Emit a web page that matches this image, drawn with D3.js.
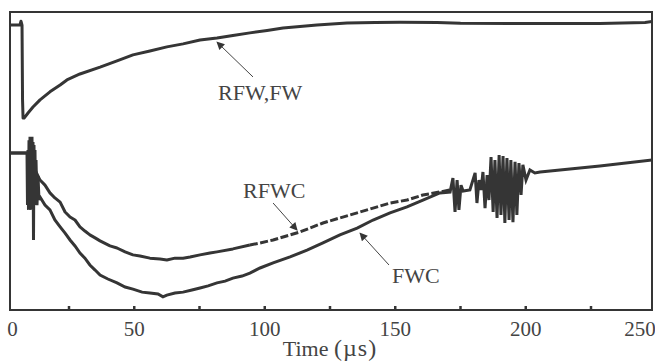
<!DOCTYPE html>
<html>
<head>
<meta charset="utf-8">
<script src="https://cdn.jsdelivr.net/npm/d3@7"></script>
<style>
  html, body { margin: 0; padding: 0; background: #fff; }
  svg { display: block; }
  text { font-family: "Liberation Serif", "Times New Roman", serif; fill: #444; }
</style>
</head>
<body>
<svg id="chart" width="655" height="363"></svg>
<script>
// Time axis (µs) and normalised signal amplitude (0 = bottom of frame, 100 = top)
const xTicksMinor = [25, 50, 75, 100, 125, 150, 175, 200, 225];
const xTickLabels = [0, 50, 100, 150, 200, 250];

// RFW and FW traces (coincident): [time µs, amplitude]
const rfwFw = [
  [2.4, 95.6], [6.2, 95.6], [6.6, 96.9], [7.0, 95.6], [7.2, 70.5], [7.4, 64.4], [7.8, 64.4],
  [9.3, 66.1], [11.2, 68.1], [13.9, 70.5], [17.7, 73.2], [21.6, 75.5], [24.2, 77.2],
  [29.2, 79.2], [36.9, 81.5], [43.4, 83.6], [49.5, 85.6], [56.0, 86.9], [62.5, 88.3],
  [68.7, 89.3], [75.2, 90.6], [81.7, 91.3], [87.8, 92.1], [94.3, 93.0], [100.9, 93.8],
  [107.0, 94.6], [113.5, 95.1], [120.0, 95.6], [131.5, 96.3], [142.3, 96.5], [151.8, 96.6],
  [166.0, 96.5], [175.0, 96.2], [228.4, 96.1], [245.7, 96.5], [248.4, 96.8]
];

// FWC trace, including the trigger burst and the late ringing
const fwc = [
  [2.4, 52.7], [8.91, 52.7], [9.10, 35.2], [9.29, 53.7], [9.48, 33.6], [9.67, 57.0],
  [9.87, 34.2], [10.06, 58.1], [10.25, 35.2], [10.44, 57.4], [10.63, 33.6], [10.82, 58.1],
  [11.02, 36.9], [11.21, 56.4], [11.40, 23.5], [11.59, 55.4], [11.78, 35.2], [11.97, 53.7],
  [12.17, 36.9], [12.36, 50.3], [12.74, 35.2], [13.12, 45.0], [13.51, 36.9], [13.89, 37.9],
  [15.8, 35.2], [17.7, 33.6], [19.6, 30.2], [21.6, 27.9], [23.5, 25.8], [25.4, 23.5],
  [27.3, 21.5], [29.2, 19.1], [31.1, 17.4], [33.0, 15.1], [35.0, 13.4], [36.9, 11.7],
  [39.9, 10.4], [43.4, 9.1], [46.5, 7.7], [49.5, 7.0], [53.0, 6.0], [56.0, 5.7],
  [59.1, 5.4], [61.0, 4.4], [62.5, 5.0], [65.6, 5.7], [68.7, 6.0], [72.1, 6.7],
  [75.2, 7.4], [78.3, 8.1], [81.7, 9.1], [84.8, 9.7], [87.8, 10.7], [91.3, 11.4],
  [94.3, 12.4], [98.2, 14.1], [103.2, 15.8], [109.7, 17.8], [116.2, 20.1], [122.3, 22.5],
  [128.8, 25.2], [135.4, 27.5], [141.5, 30.2], [148.0, 32.6], [154.5, 34.6], [160.6, 36.9],
  [167.1, 39.3], [171.0, 39.6],
  [172.1, 44.3], [172.9, 32.9], [173.7, 43.6], [174.4, 33.6], [175.2, 41.9], [176.0, 39.9],
  [178.6, 40.3], [180.6, 46.0], [181.3, 35.9], [182.1, 43.6], [182.9, 40.3], [183.6, 46.3],
  [184.4, 34.2], [185.2, 45.3], [185.9, 36.9], [186.7, 51.3], [187.5, 32.9], [188.2, 50.3],
  [189.0, 30.9], [189.8, 52.0], [190.5, 31.9], [191.3, 51.7], [192.0, 29.2], [192.8, 51.0],
  [193.6, 30.2], [194.3, 50.3], [195.1, 29.5], [195.9, 49.7], [196.6, 31.9], [197.4, 49.3],
  [198.2, 38.6], [198.9, 48.7], [200.1, 43.6], [201.6, 47.0], [203.5, 46.0], [205.5, 46.3],
  [228.4, 48.3], [248.4, 50.3]
];

// RFWC trace
const rfwc = [
  [2.4, 52.7], [8.9, 52.7], [10.1, 50.3], [12.4, 46.3], [13.1, 45.0], [13.9, 43.6],
  [15.8, 41.9], [17.7, 39.3], [19.6, 37.6], [21.6, 36.2], [23.5, 32.9], [25.4, 31.2],
  [27.3, 30.2], [29.2, 27.9], [31.1, 26.5], [33.0, 25.2], [35.0, 24.2], [36.9, 23.2],
  [40.7, 21.5], [43.4, 20.8], [46.5, 19.5], [49.5, 18.5], [52.2, 18.1], [56.0, 17.4],
  [59.9, 17.1], [62.5, 16.8], [65.6, 17.4], [68.7, 17.4], [71.4, 17.8], [75.2, 18.5],
  [79.0, 19.1], [81.7, 19.5], [87.8, 20.5], [94.3, 21.8], [98.2, 22.5], [103.2, 23.5],
  [113.5, 26.2], [122.3, 29.2], [128.8, 30.9], [135.4, 32.6], [141.5, 34.2], [148.0, 35.9],
  [154.5, 36.9], [160.6, 38.6], [167.1, 39.6], [171.0, 40.3]
];

// Curve labels with pointer arrows: text anchor and arrow tail/head in data units
const annotations = [
  { text: "RFW,FW", at: [82.1, 70.5], from: [95.5, 78.2], to: [81.7, 89.9] },
  { text: "RFWC",   at: [91.7, 37.6], from: [103.2, 35.9], to: [112.4, 26.8] },
  { text: "FWC",    at: [148.8, 9.1], from: [147.6, 15.1], to: [136.5, 25.8] }
];

const frame = { left: 10, top: 12, right: 652, bottom: 310 };
const ink = "#353535";

const svg = d3.select("#chart");

// Time scale: 0 µs sits just left of the frame, 250 µs just right of it
const x = d3.scaleLinear().domain([0, 250]).range([3.75, 656.25]);
const y = d3.scaleLinear().domain([0, 100]).range([frame.bottom, frame.top]);

const defs = svg.append("defs");
defs.append("clipPath").attr("id", "plot-clip")
  .append("rect")
  .attr("x", frame.left).attr("y", frame.top)
  .attr("width", frame.right - frame.left).attr("height", frame.bottom - frame.top);

defs.append("marker")
  .attr("id", "arrowhead")
  .attr("viewBox", "0 0 10 10")
  .attr("refX", 9).attr("refY", 5)
  .attr("markerUnits", "userSpaceOnUse")
  .attr("markerWidth", 11).attr("markerHeight", 8)
  .attr("orient", "auto")
  .append("path")
  .attr("d", "M0,0 L10,5 L0,10 Z")
  .attr("fill", ink);

const line = d3.line().x(d => x(d[0])).y(d => y(d[1]));

const plot = svg.append("g").attr("clip-path", "url(#plot-clip)");

plot.append("path").datum(rfwFw)
  .attr("d", line).attr("fill", "none")
  .attr("stroke", ink).attr("stroke-width", 3).attr("stroke-linejoin", "round");

// RFWC: solid while noisy, then broken (dashed) as it rises
const splitT = 90;
plot.append("path").datum(rfwc.filter(d => d[0] <= 94.3))
  .attr("d", line).attr("fill", "none")
  .attr("stroke", ink).attr("stroke-width", 3).attr("stroke-linejoin", "round");
plot.append("path").datum(rfwc.filter(d => d[0] >= splitT))
  .attr("d", line).attr("fill", "none")
  .attr("stroke", ink).attr("stroke-width", 3)
  .attr("stroke-dasharray", "8,2.5");

plot.append("path").datum(fwc)
  .attr("d", line).attr("fill", "none")
  .attr("stroke", ink).attr("stroke-width", 3).attr("stroke-linejoin", "miter");

// Frame
svg.append("rect")
  .attr("x", frame.left).attr("y", frame.top)
  .attr("width", frame.right - frame.left).attr("height", frame.bottom - frame.top)
  .attr("fill", "none").attr("stroke", ink).attr("stroke-width", 2);

// Inward tick marks on the time axis
svg.append("g").selectAll("line").data(xTicksMinor).join("line")
  .attr("x1", d => x(d)).attr("x2", d => x(d))
  .attr("y1", frame.bottom).attr("y2", frame.bottom - 4)
  .attr("stroke", ink).attr("stroke-width", 2.5);

// Tick labels, kept inside the frame span at both ends
svg.append("g").selectAll("text").data(xTickLabels).join("text")
  .attr("x", d => Math.min(Math.max(x(d), frame.left + 2.5), 640))
  .attr("y", 336)
  .attr("text-anchor", "middle")
  .attr("font-size", 21)
  .text(d => d);

// Axis title
const title = svg.append("text")
  .attr("x", 330).attr("y", 356)
  .attr("text-anchor", "middle")
  .attr("font-size", 22);
title.append("tspan").text("Time ");
title.append("tspan").attr("font-size", 24).attr("letter-spacing", 1).text("(µs)");

// Annotations
const ann = svg.append("g");
ann.selectAll("line").data(annotations).join("line")
  .attr("x1", d => x(d.from[0])).attr("y1", d => y(d.from[1]))
  .attr("x2", d => x(d.to[0])).attr("y2", d => y(d.to[1]))
  .attr("stroke", "#444").attr("stroke-width", 1)
  .attr("marker-end", "url(#arrowhead)");
ann.selectAll("text").data(annotations).join("text")
  .attr("x", d => x(d.at[0])).attr("y", d => y(d.at[1]))
  .attr("font-size", 22)
  .text(d => d.text);
</script>
</body>
</html>
